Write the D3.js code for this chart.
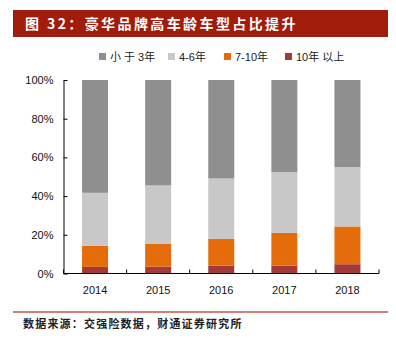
<!DOCTYPE html>
<html>
<head>
<meta charset="utf-8">
<script src="https://cdn.jsdelivr.net/npm/d3@7"></script>
<style>
  body { margin: 0; background: #fff; }
  svg { display: block; font-family: "Liberation Sans", Arial, sans-serif; }
</style>
</head>
<body>
<svg id="chart" width="396" height="349"></svg>
<script>
// data (percent of cars by age)
var years = ["2014", "2015", "2016", "2017", "2018"];
var seriesNames = ["小 于 3年", "4-6年", "7-10年", "10年 以上"];
var seriesColors = ["#8f8f8f", "#c8c8c8", "#e46c0a", "#a33a3a"];
var under3 = [58.3, 54.5, 50.9, 47.6, 45.0];
var y4to6 = [27.4, 30.2, 31.2, 31.4, 30.7];
var y7to10 = [10.9, 11.8, 13.8, 16.9, 19.5];
var over10 = [3.4, 3.5, 4.1, 4.1, 4.8];
var yTicks = [0, 20, 40, 60, 80, 100];

var svg = d3.select("#chart");

// title bar
svg.append("rect")
   .attr("x", 13).attr("y", 10)
   .attr("width", 375).attr("height", 27)
   .attr("fill", "#a11d0b");
svg.append("text")
   .attr("x", 25).attr("y", 29)
   .attr("fill", "#fff")
   .style("font-family", "'Noto Sans CJK SC', sans-serif")
   .style("font-weight", "bold")
   .style("font-size", "14px")
   .style("letter-spacing", "2.4px")
   .text("图 32：豪华品牌高车龄车型占比提升");

// stack from bottom: 10年以上, 7-10年, 4-6年, 小于3年
var rows = years.map(function(y, i){
  return {year: y, a: over10[i], b: y7to10[i], c: y4to6[i], d: under3[i]};
});
var keys = ["a", "b", "c", "d"];
var keyColor = {a: seriesColors[3], b: seriesColors[2], c: seriesColors[1], d: seriesColors[0]};
var stacked = d3.stack().keys(keys)(rows);

var x = d3.scaleBand()
          .domain(years)
          .range([63.5, 379])
          .paddingInner(0.588)
          .paddingOuter(0.294);

var y = d3.scaleLinear()
          .domain([0, 100])
          .range([273.5, 80]);

svg.append("g")
   .selectAll("g")
   .data(stacked)
   .enter()
   .append("g")
   .attr("fill", function(d){ return keyColor[d.key]; })
   .selectAll("rect")
   .data(function(d){ return d; })
   .enter()
   .append("rect")
   .attr("x", function(d){ return x(d.data.year); })
   .attr("width", x.bandwidth())
   .attr("y", function(d){ return y(d[1]); })
   .attr("height", function(d){ return y(d[0]) - y(d[1]); });

// y axis with inward ticks
var yAxis = svg.append("g")
   .attr("transform", "translate(63.5,0)")
   .call(d3.axisLeft(y)
           .tickValues(yTicks)
           .tickSizeInner(-4)
           .tickSizeOuter(0)
           .tickPadding(10)
           .tickFormat(function(d){ return d + "%"; }));
yAxis.select(".domain").attr("stroke", "#000");
yAxis.selectAll("text").style("font-size", "11px").attr("fill", "#111");

// x axis: line plus inward ticks between categories
var step = x.step();
var bounds = years.map(function(d){ return x(d) - step * 0.294; });
bounds.push(379);
svg.append("line")
   .attr("x1", 63.5).attr("x2", 379)
   .attr("y1", 273.5).attr("y2", 273.5)
   .attr("stroke", "#000");
svg.append("g")
   .selectAll("line")
   .data(bounds)
   .enter()
   .append("line")
   .attr("x1", function(d){ return d; })
   .attr("x2", function(d){ return d; })
   .attr("y1", 273.5).attr("y2", 269.5)
   .attr("stroke", "#000");
svg.append("g")
   .selectAll("text")
   .data(years)
   .enter()
   .append("text")
   .attr("x", function(d){ return x(d) + x.bandwidth() / 2; })
   .attr("y", 294)
   .attr("text-anchor", "middle")
   .style("font-size", "11px")
   .attr("fill", "#111")
   .text(function(d){ return d; });

// legend
var legendX = [99, 168, 224, 285];
var legend = svg.append("g")
   .selectAll("g")
   .data(seriesNames)
   .enter()
   .append("g")
   .attr("transform", function(d, i){ return "translate(" + legendX[i] + ",53)"; });
legend.append("rect")
   .attr("width", 7).attr("height", 7)
   .attr("fill", function(d, i){ return seriesColors[i]; });
legend.append("text")
   .attr("x", 11).attr("y", 7.5)
   .style("font-size", "11px")
   .style("font-family", "'Liberation Sans', 'Noto Sans CJK SC', sans-serif")
   .attr("fill", "#222")
   .text(function(d){ return d; });

// source line
svg.append("line")
   .attr("x1", 13).attr("x2", 388)
   .attr("y1", 312).attr("y2", 312)
   .attr("stroke", "#c0584a")
   .attr("stroke-width", 1.5);
svg.append("text")
   .attr("x", 23).attr("y", 328)
   .style("font-family", "'Noto Sans CJK SC', sans-serif")
   .style("font-weight", "bold")
   .style("font-size", "11px")
   .style("letter-spacing", "1.2px")
   .attr("fill", "#222")
   .text("数据来源：交强险数据，财通证券研究所");
</script>
</body>
</html>
